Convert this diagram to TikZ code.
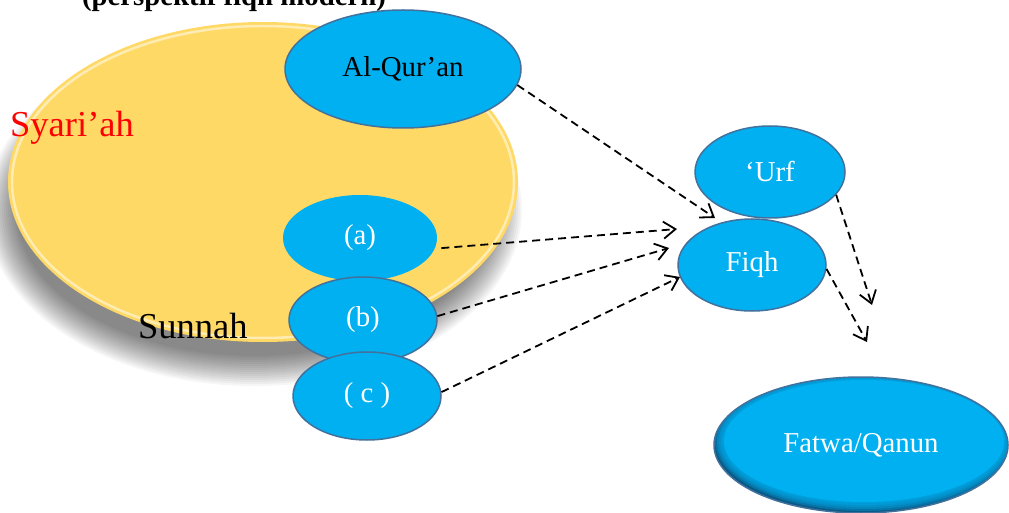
\documentclass[tikz,border=0pt]{standalone}
\usepackage{fontspec}
\setmainfont{Liberation Serif}
\usetikzlibrary{shapes.geometric,arrows.meta,calc}
\definecolor{qblue}{HTML}{00B0F0}
\definecolor{qedge}{HTML}{41719C}
\definecolor{syel}{HTML}{FFD966}
\definecolor{qdark}{HTML}{0A5A86}
\begin{document}
\begin{tikzpicture}[x=1pt,y=-1pt,
  blob/.style={ellipse, fill=qblue, draw=qedge, line width=1.5pt, inner sep=0pt,
    font=\fontsize{28.8}{32}\selectfont, text=white},
  flow/.style={draw=black, line width=1.8pt, dash pattern=on 8pt off 5pt,
    -{Straight Barb[length=12pt,width=17pt]}},
  biglbl/.style={anchor=base west, inner sep=0pt, font=\fontsize{36.5}{40}\selectfont}]
\clip (0,0) rectangle (1009,513);
\fill[white] (0,0) rectangle (1009,513);
% title (cut off at top)
\node[anchor=base, inner sep=0pt, font=\bfseries\fontsize{28.8}{32}\selectfont] (title) at (234,6) {(perspektif fiqh modern)};
% shadow of the Syari'ah ellipse
\foreach \i [evaluate=\i as \rx using 238+2*\i, evaluate=\i as \ry using 146+2*\i] in {0,...,15}
  \fill[black,opacity=0.035] (254,210) ellipse [x radius=\rx pt, y radius=\ry pt];
% Syari'ah ellipse
\node[ellipse, fill=syel, minimum width=510pt, minimum height=320pt, inner sep=0pt] (syariah) at (263,182) {};
\draw[white, opacity=0.5, line width=2.5pt] (263,182) ellipse [x radius=251pt, y radius=156pt];
% labels
\node[biglbl, text=red] (syarlbl) at (10,137) {Syari’ah};
\node[biglbl, text=black] (sunlbl) at (138,338) {Sunnah};
% nodes
\node[blob, text=black, minimum width=236pt, minimum height=118pt] (Q) at (403,69) {Al-Qur’an};
\node[blob, draw=none, minimum width=154pt, minimum height=86pt] (a) at (360,238) {(a)};
\node[blob, minimum width=148pt, minimum height=86pt] (b) at (363,320) {(b)};
\node[blob, minimum width=148pt, minimum height=88pt] (c) at (367,396) {( c )};
\node[blob, minimum width=150pt, minimum height=92pt] (U) at (770,172) {‘Urf};
\node[blob, minimum width=148pt, minimum height=92pt] (F) at (752,265) {Fiqh};
\node[blob, fill=qdark, minimum width=294pt, minimum height=136pt,
  path picture={
    \foreach \k [evaluate=\k as \wx using 149-2*\k, evaluate=\k as \wy using 70-2*\k] in {0,...,4}
      \fill[qblue,opacity=0.3] ($(path picture bounding box.center)+(3pt,4pt)$) ellipse [x radius=\wx pt, y radius=\wy pt];
    \fill[qblue] ($(path picture bounding box.center)+(3pt,4pt)$) ellipse [x radius=140pt, y radius=61pt];
  }] (W) at (861,445) {Fatwa/Qanun};
% arrow end points
\coordinate (tQ) at (715,218);
\coordinate (ta) at (677,229);
\coordinate (tb) at (669,248);
\coordinate (tc) at (680,277);
\coordinate (tU) at (872,305);
\coordinate (tF) at (867,342);
% connectors
\draw[flow] (Q.-8) -- (tQ);
\draw[flow, shorten <=6pt] (a.-8) -- (ta);
\draw[flow] (b.3) -- (tb);
\draw[flow] (c.3) -- (tc);
\draw[flow] (U.-19) -- (tU);
\draw[flow] (F.-3) -- (tF);
\end{tikzpicture}
\end{document}
